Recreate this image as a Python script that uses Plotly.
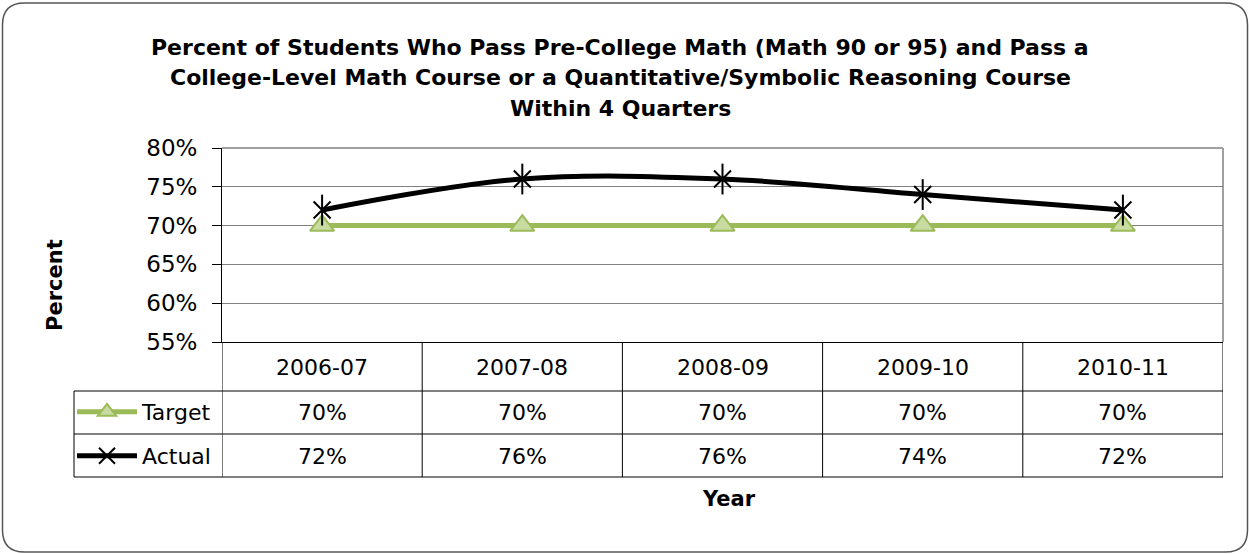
import plotly.graph_objects as go

# ---- data ----
years = ["2006-07", "2007-08", "2008-09", "2009-10", "2010-11"]
target = [70, 70, 70, 70, 70]
actual = [72, 76, 76, 74, 72]
y_ticks = [55, 60, 65, 70, 75, 80]
title_lines = [
    "Percent of Students Who Pass Pre-College Math (Math 90 or 95) and Pass a",
    "College-Level Math Course or a Quantitative/Symbolic Reasoning Course",
    "Within 4 Quarters",
]

W, H = 1249, 554
L, R, T, B = 222, 26, 148, 212
PW = W - L - R
PH = H - T - B
FONT = "DejaVu Sans, Liberation Sans, Arial, sans-serif"


def px(xp):
    return (xp - L) / PW


def py(yp):
    return (H - B - yp) / PH


GREEN = "#9bbb59"
GREEN_FILL = "#c8dba0"

fig = go.Figure()
fig.add_trace(go.Scatter(
    x=years, y=target, name="Target", mode="lines+markers",
    line=dict(color=GREEN, width=5),
    marker=dict(symbol="triangle-up", size=21, color=GREEN_FILL,
                line=dict(color=GREEN, width=2)),
    legend="legend",
))
fig.add_trace(go.Scatter(
    x=years, y=actual, name="Actual", mode="lines+markers",
    line=dict(color="black", width=5, shape="spline", smoothing=1.0),
    marker=dict(symbol="x-thin-open", size=17, color="black",
                line=dict(color="black", width=2)),
    legend="legend2",
))
fig.add_trace(go.Scatter(
    x=years, y=actual, mode="markers", showlegend=False, hoverinfo="skip",
    marker=dict(symbol="line-ns-open", size=22, color="black",
                line=dict(color="black", width=2)),
))

shapes = []
# plot area: gray top and right border
shapes.append(dict(type="line", xref="paper", yref="paper", x0=0, x1=1, y0=1, y1=1,
                   line=dict(color="#a0a0a0", width=2), layer="below"))
shapes.append(dict(type="line", xref="paper", yref="paper", x0=1, x1=1, y0=0, y1=1,
                   line=dict(color="#a0a0a0", width=2), layer="below"))
# data table vertical separators (category boundaries)
n = len(years)
for i in range(n + 1):
    shapes.append(dict(type="line", xref="x", yref="paper", x0=i - 0.5, x1=i - 0.5,
                       y0=py(342), y1=py(477), line=dict(color="black", width=1)))
# left border of legend column
shapes.append(dict(type="line", xref="paper", yref="paper", x0=px(74), x1=px(74),
                   y0=py(391), y1=py(477), line=dict(color="black", width=1)))
# horizontal table lines
for yp in (391, 434, 477):
    shapes.append(dict(type="line", xref="paper", yref="paper", x0=px(74), x1=1,
                       y0=py(yp), y1=py(yp), line=dict(color="black", width=1)))

# outer rounded border
x0p, x1p, y0p, y1p, r = 2.5, 1247.5, 3, 552, 22
path = (
    f"M {px(x0p + r)},{py(y0p)} L {px(x1p - r)},{py(y0p)} "
    f"Q {px(x1p)},{py(y0p)} {px(x1p)},{py(y0p + r)} "
    f"L {px(x1p)},{py(y1p - r)} Q {px(x1p)},{py(y1p)} {px(x1p - r)},{py(y1p)} "
    f"L {px(x0p + r)},{py(y1p)} Q {px(x0p)},{py(y1p)} {px(x0p)},{py(y1p - r)} "
    f"L {px(x0p)},{py(y0p + r)} Q {px(x0p)},{py(y0p)} {px(x0p + r)},{py(y0p)} Z"
)
shapes.append(dict(type="path", xref="paper", yref="paper", path=path,
                   line=dict(color="#555555", width=1.5)))

annotations = []
for k, line in enumerate(title_lines):
    annotations.append(dict(text=f"<b>{line}</b>", xref="paper", yref="paper",
                            x=px(620), y=py([47, 78, 108][k]), showarrow=False,
                            xanchor="center", yanchor="middle",
                            font=dict(family=FONT, size=22, color="black")))
for i, yr in enumerate(years):
    annotations.append(dict(text=yr, xref="x", yref="paper", x=i, y=py(367),
                            showarrow=False, xanchor="center", yanchor="middle",
                            font=dict(family=FONT, size=22, color="black")))
    annotations.append(dict(text=f"{target[i]}%", xref="x", yref="paper", x=i, y=py(412),
                            showarrow=False, xanchor="center", yanchor="middle",
                            font=dict(family=FONT, size=22, color="black")))
    annotations.append(dict(text=f"{actual[i]}%", xref="x", yref="paper", x=i, y=py(456),
                            showarrow=False, xanchor="center", yanchor="middle",
                            font=dict(family=FONT, size=22, color="black")))
annotations.append(dict(text="<b>Percent</b>", xref="paper", yref="paper",
                        x=px(55), y=py(285), textangle=-90, showarrow=False,
                        xanchor="center", yanchor="middle",
                        font=dict(family=FONT, size=21, color="black")))
annotations.append(dict(text="<b>Year</b>", xref="paper", yref="paper",
                        x=px(729), y=py(499), showarrow=False,
                        xanchor="center", yanchor="middle",
                        font=dict(family=FONT, size=21, color="black")))

legend_common = dict(xref="paper", yref="paper", xanchor="left", yanchor="middle",
                     bgcolor="rgba(0,0,0,0)", borderwidth=0, itemwidth=60,
                     font=dict(family=FONT, size=22, color="black"))

fig.update_layout(
    width=W, height=H,
    margin=dict(l=L, r=R, t=T, b=B, pad=0),
    paper_bgcolor="white", plot_bgcolor="white",
    showlegend=True,
    legend=dict(x=px(72), y=py(412), **legend_common),
    legend2=dict(x=px(72), y=py(456), **legend_common),
    xaxis=dict(type="category", range=[-0.5, n - 0.5], showticklabels=False,
               showgrid=False, zeroline=False, showline=True,
               linecolor="black", linewidth=1, ticks=""),
    yaxis=dict(range=[y_ticks[0], y_ticks[-1]], tickvals=y_ticks,
               ticktext=[f"{v}%" for v in y_ticks],
               showgrid=True, gridcolor="#808080", gridwidth=1,
               zeroline=False, showline=True, linecolor="black", linewidth=1,
               ticks="outside", ticklen=9, tickcolor="black",
               ticklabelstandoff=10,
               tickfont=dict(family=FONT, size=23, color="black")),
    shapes=shapes, annotations=annotations,
    font=dict(family=FONT),
)

fig.write_html("out.html", config={"displayModeBar": False},
               post_script="document.body.style.margin='0';")
